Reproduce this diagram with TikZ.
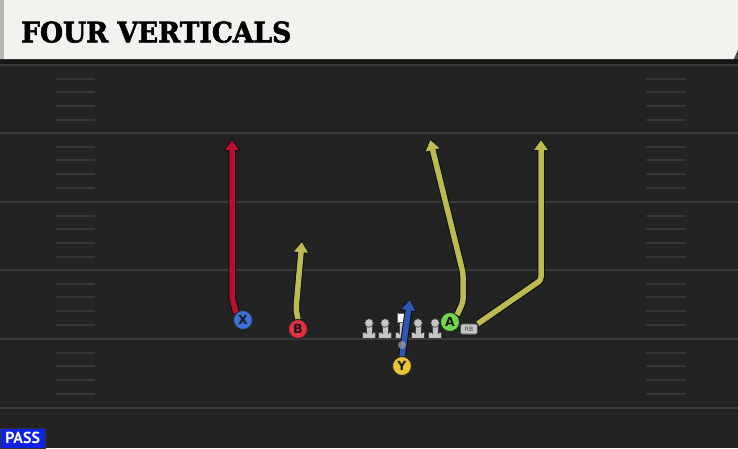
\documentclass[tikz,border=0pt]{standalone}
\usepackage{fontspec}
\usetikzlibrary{arrows.meta}
\newfontfamily\titlefont{DejaVu Serif Bold}[FakeBold=2]
\newfontfamily\labfont{DejaVu Sans}
\newfontfamily\passfont{PT Sans}
\definecolor{fieldbg}{HTML}{232323}
\definecolor{bannerbg}{HTML}{F4F2EC}
\definecolor{shadowc}{HTML}{161616}
\definecolor{stripec}{HTML}{B4B4B0}
\definecolor{fline}{HTML}{3A3A3A}
\definecolor{hashc}{HTML}{363636}
\definecolor{redroute}{HTML}{B8102E}
\definecolor{yelroute}{HTML}{BDBA52}
\definecolor{blueroute}{HTML}{2E56B4}
\definecolor{xblue}{HTML}{3C70DA}
\definecolor{bred}{HTML}{E2323E}
\definecolor{agreen}{HTML}{6CD84A}
\definecolor{yyellow}{HTML}{EAC232}
\definecolor{lmgray}{HTML}{C4C4C4}
\definecolor{passblue}{HTML}{0F22E6}
\tikzset{
  player/.style={circle,draw=black!85,line width=0.9pt,inner sep=0pt,minimum size=19pt,
    font=\labfont\bfseries\fontsize{12.5}{12.5}\selectfont,text=black!90},
  routeout/.style={draw=black!95,line width=7.5pt,rounded corners=3pt,line join=round,
    -{Triangle[width=16pt,length=12pt]}},
  routein/.style={line width=5.5pt,rounded corners=3pt,line join=round,shorten >=1.2pt,
    -{Triangle[width=13.5pt,length=10pt]}},
  lineman/.style={fill=lmgray,draw=black!75,line width=0.6pt},
  rbstyle/.style={rounded corners=2pt,fill=lmgray,draw=black!70,line width=0.6pt,minimum width=17pt,
    minimum height=10pt,inner sep=0pt,font=\labfont\fontsize{6}{6}\selectfont,text=black!75},
}
\begin{document}
\begin{tikzpicture}[x=1pt,y=-1pt]
\useasboundingbox (0,0) rectangle (738,448);
\fill[fieldbg] (0,0) rectangle (738,448);
% banner
\fill[shadowc] (0,59) rectangle (738,64);
\fill[bannerbg] (0,0) -- (738,0) -- (738,50) -- (734,59) -- (0,59) -- cycle;
\fill[black!70] (734,59) -- (738,50) -- (738,59) -- cycle;
\fill[stripec] (0,0) rectangle (4,59);
\node[anchor=south west,inner sep=0pt] (title) at (21,43)
  {\resizebox{270pt}{21pt}{\titlefont FOUR VERTICALS}};
% field lines
\foreach \yy in {65,133,202,270,339,408}
  \draw[fline,line width=2pt] (0,\yy) -- (738,\yy);
\foreach \yy in {65,133,202,270,339}
  \foreach \o in {14,27,41,55} {
    \draw[hashc,line width=1.6pt] (56,\yy+\o) -- (95,\yy+\o);
    \draw[hashc,line width=1.6pt] (646,\yy+\o) -- (686,\yy+\o);
  }
% linemen
\foreach \x in {369,385,418,435} {
  \draw[lineman] (\x-6.5,332.5) rectangle (\x+6.5,338.5);
  \draw[lineman] (\x-3,325.5) rectangle (\x+3,333);
  \fill[lmgray] (\x-2.5,332) rectangle (\x+2.5,334);
  \draw[lineman] (\x,323) circle (4.3);
}
\draw[lineman] (395.5,332.5) rectangle (408.5,338.5);
\draw[lineman] (399,322) rectangle (405,333);
\fill[lmgray] (399.5,332) rectangle (404.5,334);
\draw[fill=white,draw=black!60,line width=0.6pt] (397.5,313.5) rectangle (406.5,322.5);
% players
\node[player,fill=xblue] (X) at (243,320) {X};
\node[player,fill=bred] (B) at (298,329) {B};
\node[player,fill=agreen] (A) at (450,322) {A};
\node[player,fill=yyellow] (Y) at (402,366) {Y};
\node[rbstyle] (RB) at (469,329) {RB};
% route ends
\coordinate (xt) at (232,139);
\coordinate (bt) at (302,241);
\coordinate (at) at (430,139);
\coordinate (rt) at (541,139);
\coordinate (yt) at (410,299);
% routes
\draw[routeout] (X.north west) -- (232,297) -- (xt);
\draw[routein,draw=redroute,-{Triangle[width=13.5pt,length=10pt,fill=redroute]}] (X.north west) -- (232,297) -- (xt);
\draw[routeout] (B.north) -- (296,309) -- (bt);
\draw[routein,draw=yelroute,-{Triangle[width=13.5pt,length=10pt,fill=yelroute]}] (B.north) -- (296,309) -- (bt);
\draw[routeout] (A.north east) -- (463,302) -- (463,273) -- (at);
\draw[routein,draw=yelroute,-{Triangle[width=13.5pt,length=10pt,fill=yelroute]}] (A.north east) -- (463,302) -- (463,273) -- (at);
\draw[routeout] (RB.north east) -- (541,280) -- (rt);
\draw[routein,draw=yelroute,-{Triangle[width=13.5pt,length=10pt,fill=yelroute]}] (RB.north east) -- (541,280) -- (rt);
\draw[routeout] (Y.north) -- (yt);
\draw[routein,draw=blueroute,-{Triangle[width=13.5pt,length=10pt,fill=blueroute]}] (Y.north) -- (yt);
\fill[gray!80,opacity=0.75] (402,345) circle (4);
% players on top of routes
\node[player,fill=xblue] at (X) {X};
\node[player,fill=bred] at (B) {B};
\node[player,fill=agreen] at (A) {A};
\node[player,fill=yyellow] at (Y) {Y};
\node[rbstyle] at (RB) {RB};
% pass label
\node[fill=passblue,draw=black!80,line width=0.5pt,anchor=south west,minimum width=45pt,
  minimum height=20pt,inner sep=0pt,text=white,font=\passfont\bfseries\fontsize{16}{16}\selectfont]
  (pass) at (0,448) {PASS};
\end{tikzpicture}
\end{document}
